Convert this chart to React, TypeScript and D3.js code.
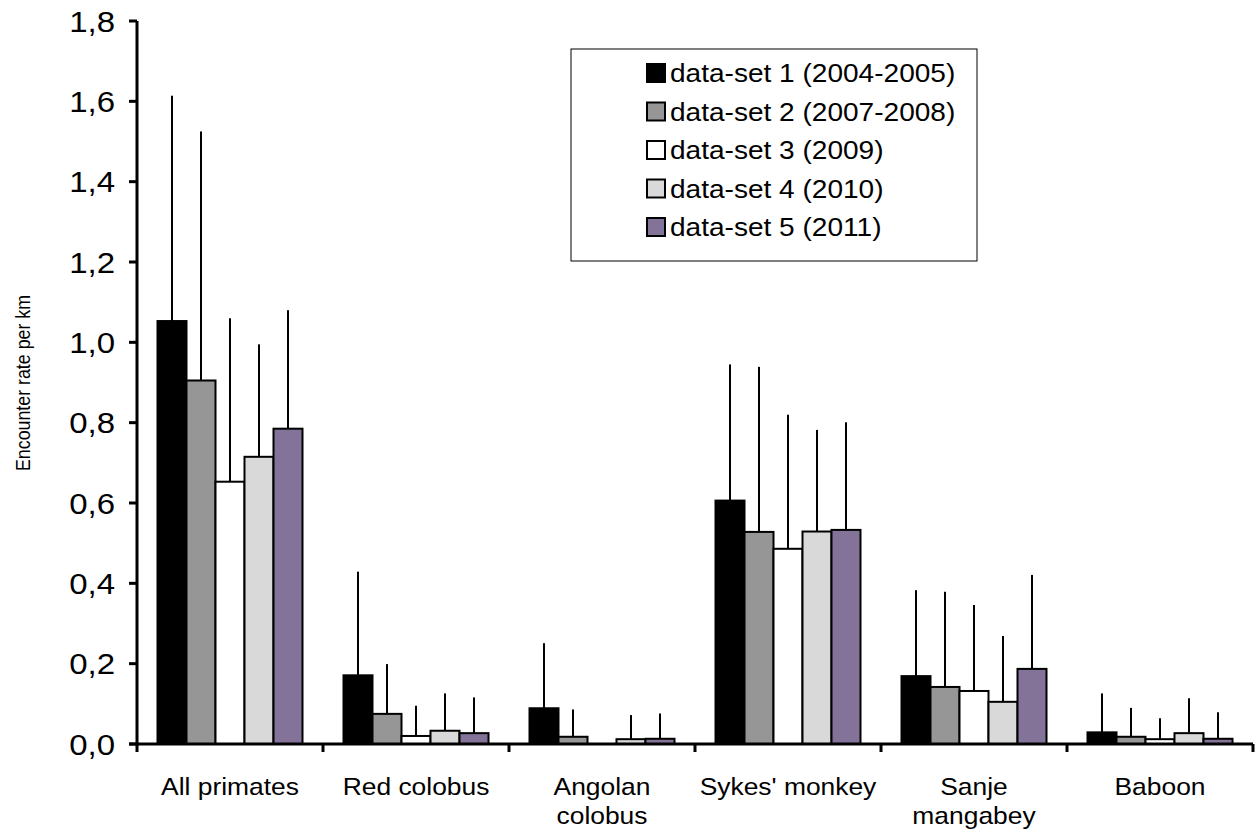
import React from "react";
import * as d3 from "d3";

const categories = ["All primates", "Red colobus", "Angolan colobus", "Sykes' monkey", "Sanje mangabey", "Baboon"];
const categoryLines = [["All primates"], ["Red colobus"], ["Angolan", "colobus"], ["Sykes' monkey"], ["Sanje", "mangabey"], ["Baboon"]];
const seriesNames = ["data-set 1 (2004-2005)", "data-set 2 (2007-2008)", "data-set 3 (2009)", "data-set 4 (2010)", "data-set 5 (2011)"];
const seriesColors = ["#000000", "#969696", "#ffffff", "#d9d9d9", "#847398"];

// mean encounter rate per km, one array per data-set (in category order)
const set1 = [1.053, 0.171, 0.089, 0.606, 0.169, 0.029];
const set2 = [0.905, 0.075, 0.018, 0.528, 0.142, 0.018];
const set3 = [0.653, 0.020, 0.0, 0.486, 0.132, 0.012];
const set4 = [0.715, 0.033, 0.012, 0.529, 0.105, 0.027];
const set5 = [0.785, 0.027, 0.013, 0.533, 0.187, 0.013];
// upper error (SD) per data-set
const err1 = [0.561, 0.258, 0.162, 0.339, 0.214, 0.097];
const err2 = [0.620, 0.124, 0.068, 0.411, 0.237, 0.072];
const err3 = [0.407, 0.075, 0.0, 0.334, 0.214, 0.052];
const err4 = [0.280, 0.093, 0.060, 0.253, 0.164, 0.087];
const err5 = [0.295, 0.089, 0.063, 0.268, 0.234, 0.066];

const yTicks = [0, 0.2, 0.4, 0.6, 0.8, 1.0, 1.2, 1.4, 1.6, 1.8];

const values = [set1, set2, set3, set4, set5];
const errors = [err1, err2, err3, err4, err5];

export default function App() {
  const W = 1256, H = 831;
  const left = 137, right = 1253, top = 21, bottom = 744;
  const sx = 1.1;
  const y = d3.scaleLinear().domain([0, 1.8]).range([bottom, top]);
  const x0 = d3.scaleBand<string>().domain(categories).range([left, right]).paddingInner(0).paddingOuter(0);
  const x1 = d3.scaleBand<string>().domain(seriesNames).range([0, x0.bandwidth()]).paddingInner(0).paddingOuter(0.707);
  const fmt = (v: number) => v.toFixed(1).replace(".", ",");
  const font = "Liberation Sans, Arial, sans-serif";

  return (
    <svg width={W} height={H} style={{ position: "absolute", left: 0, top: 0, background: "#fff" }} fontFamily={font}>
      <rect x={0} y={0} width={W} height={H} fill="#fff" />
      {/* bars */}
      {categories.map((c, ci) => (
        <g key={c}>
          {seriesNames.map((s, si) => {
            const v = values[si][ci];
            const e = errors[si][ci];
            const bx = (x0(c) as number) + (x1(s) as number);
            const bw = x1.bandwidth();
            if (v <= 0) return null;
            return (
              <g key={s}>
                {e > 0 && (
                  <line x1={bx + bw / 2} x2={bx + bw / 2} y1={y(v)} y2={y(v + e)} stroke="#000" strokeWidth={2} />
                )}
                <rect x={bx} y={y(v)} width={bw} height={bottom - y(v)} fill={seriesColors[si]} stroke="#000" strokeWidth={2} />
              </g>
            );
          })}
        </g>
      ))}
      {/* y axis */}
      <line x1={left} x2={left} y1={top} y2={bottom + 1.5} stroke="#000" strokeWidth={3} />
      {yTicks.map((t) => (
        <g key={t}>
          <line x1={left - 8} x2={left} y1={y(t)} y2={y(t)} stroke="#000" strokeWidth={3} />
          <text transform={`translate(115,${y(t)}) scale(${sx},1)`} dy="0.36em" textAnchor="end" fontSize={30}>{fmt(t)}</text>
        </g>
      ))}
      {/* x axis */}
      <line x1={left - 8} x2={right} y1={bottom} y2={bottom} stroke="#000" strokeWidth={3} />
      {categories.map((c) => (
        <line key={c} x1={x0(c) as number} x2={x0(c) as number} y1={bottom} y2={bottom + 8} stroke="#000" strokeWidth={3} />
      ))}
      <line x1={right} x2={right} y1={bottom} y2={bottom + 8} stroke="#000" strokeWidth={3} />
      {categories.map((c, ci) => {
        const cx = (x0(c) as number) + x0.bandwidth() / 2;
        return (
          <text key={c} transform={`translate(${cx},795) scale(${sx},1)`} textAnchor="middle" fontSize={24}>
            {categoryLines[ci].map((ln, li) => (
              <tspan key={li} x={0} dy={li === 0 ? 0 : 29}>{ln}</tspan>
            ))}
          </text>
        );
      })}
      {/* y title */}
      <text transform={`translate(30,383) rotate(-90)`} textAnchor="middle" fontSize={21} textLength={176} lengthAdjust="spacingAndGlyphs">Encounter rate per km</text>
      {/* legend */}
      <rect x={571} y={49} width={406} height={212} fill="#fff" stroke="#000" strokeWidth={1} />
      {seriesNames.map((s, si) => {
        const cy = 73 + si * 38.5;
        return (
          <g key={s}>
            <rect x={647} y={cy - 9} width={18} height={18} fill={seriesColors[si]} stroke="#000" strokeWidth={2} />
            <text transform={`translate(670,${cy}) scale(${sx},1)`} dy="0.36em" fontSize={25.5}>{s}</text>
          </g>
        );
      })}
    </svg>
  );
}
